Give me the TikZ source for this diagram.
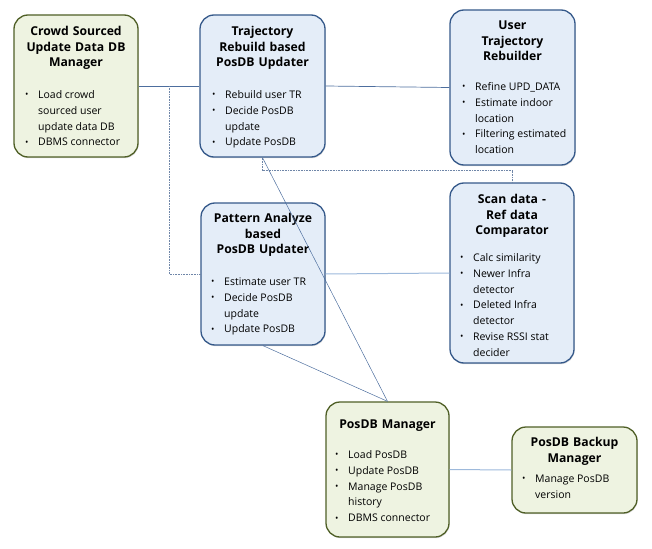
\documentclass[tikz,border=0pt]{standalone}
\usepackage{fontspec}
\setmainfont{Open Sans}
\usetikzlibrary{calc,shadows}
\definecolor{gfill}{HTML}{EEF3E1}
\definecolor{gline}{HTML}{4F5F26}
\definecolor{bfill}{HTML}{E4EDF8}
\definecolor{bline}{HTML}{35598A}
\definecolor{conndark}{HTML}{4D6E9E}
\definecolor{connlight}{HTML}{9DB9DB}
\definecolor{conndot}{HTML}{6F86A8}
\newcommand\bit[1]{\par\noindent\hangindent=13pt\hangafter=1\makebox[13pt][l]{\raisebox{0.6pt}{\small•}}#1}
\newcommand\blist[1]{\begin{minipage}[t]{125pt}\fontsize{10.5}{15.8}\selectfont\raggedright\let\\\newline#1\end{minipage}}
\begin{document}
\begin{tikzpicture}[x=1pt,y=-1pt,
  basebox/.style={rounded corners=14pt, line width=1.3pt, inner sep=0pt,
    drop shadow={shadow xshift=0.6pt, shadow yshift=-1.2pt, opacity=0.3}},
  gbox/.style={basebox, draw=gline, fill=gfill},
  bbox/.style={basebox, draw=bline, fill=bfill},
  ttl/.style={anchor=base, align=center, text width=122pt, inner sep=0pt, font=\bfseries\fontsize{12.2}{15.6}\selectfont},
  lst/.style={anchor=base west, inner sep=0pt},
  conn/.style={draw=conndark, line width=0.7pt},
  lconn/.style={draw=connlight, line width=1pt},
  dconn/.style={draw=conndot, line width=0.6pt, densely dotted}]
\useasboundingbox (0,0) rectangle (652,548);
% boxes
\node[gbox, minimum width=124pt, minimum height=142pt] (b1) at (76,86) {};
\node[bbox, minimum width=125pt, minimum height=142pt] (b2) at (262.5,86) {};
\node[bbox, minimum width=125pt, minimum height=155pt] (b3) at (512.5,87.5) {};
\node[bbox, minimum width=124pt, minimum height=142pt] (b4) at (263,274) {};
\node[bbox, minimum width=124pt, minimum height=180pt] (b5) at (512,273) {};
\node[gbox, minimum width=123pt, minimum height=135pt] (b6) at (387.5,469.5) {};
\node[gbox, minimum width=125pt, minimum height=86pt] (b7) at (574.5,470) {};
% titles
\node[ttl] (t1) at (76,35.5) {Crowd Sourced\\Update Data DB\\Manager};
\node[ttl] (t2) at (262.5,35.5) {Trajectory\\Rebuild based\\PosDB Updater};
\node[ttl] (t3) at (512.5,29.5) {User\\Trajectory\\Rebuilder};
\node[ttl] (t4) at (263,222.5) {Pattern Analyze\\based\\PosDB Updater};
\node[ttl] (t5) at (512,203.5) {Scan data -\\Ref data\\Comparator};
\node[ttl] (t6) at (387.5,428.5) {PosDB Manager};
\node[ttl] (t7) at (574.5,446.5) {PosDB Backup\\Manager};
% lists
\node[lst] (l1) at (25,98.5) {\blist{\bit{Load crowd\\sourced user\\update data DB}\bit{DBMS connector}}};
\node[lst] (l2) at (212,98.5) {\blist{\bit{Rebuild user TR}\bit{Decide PosDB\\update}\bit{Update PosDB}}};
\node[lst] (l3) at (462,90.5) {\blist{\bit{Refine UPD\_DATA}\bit{Estimate indoor\\location}\bit{Filtering estimated\\location}}};
\node[lst] (l4) at (211,285.5) {\blist{\bit{Estimate user TR}\bit{Decide PosDB\\update}\bit{Update PosDB}}};
\node[lst] (l5) at (460,261.5) {\blist{\bit{Calc similarity}\bit{Newer Infra\\detector}\bit{Deleted Infra\\detector}\bit{Revise RSSI stat\\decider}}};
\node[lst] (l6) at (335,458.5) {\blist{\bit{Load PosDB}\bit{Update PosDB}\bit{Manage PosDB\\history}\bit{DBMS connector}}};
\node[lst] (l7) at (522,482.5) {\blist{\bit{Manage PosDB\\version}}};
% connectors
\coordinate (j1) at ($(b1.east)!0.5!(b2.west)$);
\draw[conn] (b1.east) -- (b2.west);
\draw[conn] (b2.east) -- (b3.west);
\draw[dconn] (j1) |- (b4.west);
\draw[dconn] (b2.south) -- ++(0,13) -| (b5.north);
\draw[lconn] (b4.east) -- (b5.west);
\draw[lconn] (b6.east) -- (b7.west);
\draw[conn, line width=0.5pt] (b2.south) -- (b6.north);
\draw[conn, line width=0.5pt] (b4.south) -- (b6.north);
\end{tikzpicture}
\end{document}
